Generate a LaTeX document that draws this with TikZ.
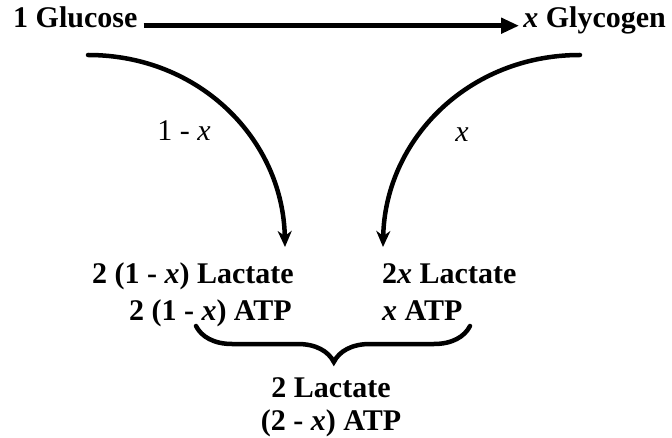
\documentclass[tikz,border=0pt]{standalone}
\usepackage{fontspec}
\setmainfont{Liberation Serif}
\usetikzlibrary{arrows.meta,decorations.pathreplacing}
\begin{document}
\begin{tikzpicture}[x=1pt, y=-1pt, >={Stealth[length=16pt,width=14pt,inset=5pt]},
  txt/.style={font=\bfseries\fontsize{30}{36}\selectfont, inner sep=0pt},
  lbl/.style={font=\fontsize{30}{36}\selectfont, inner sep=0pt},
  heavy/.style={line width=4.5pt, line cap=round}]
  \useasboundingbox (0,0) rectangle (672,438);
  % Текстове
  \node[txt, anchor=base west] (glu) at (13,28) {1 Glucose};
  \node[txt, anchor=base east] (gly) at (666,28) {\textit{x} Glycogen};
  \node[txt, anchor=base east] (lacA) at (294,284) {2 (1 - \textit{x}) Lactate};
  \node[txt, anchor=base east] (atpA) at (292,320) {2 (1 - \textit{x}) ATP};
  \node[txt, anchor=base west] (lacB) at (382,284) {2\textit{x} Lactate};
  \node[txt, anchor=base west] (atpB) at (382,320) {\textit{x} ATP};
  \node[txt, anchor=base] (lacS) at (331,397) {2 Lactate};
  \node[txt, anchor=base] (atpS) at (331,430) {(2 - \textit{x}) ATP};

  % Прав път
  \draw[line width=4.5pt, -{Triangle[length=18pt,width=15pt]}] ([xshift=6pt]glu.mid east) -- ([xshift=-4pt]gly.mid west);

  % Криви стрелки
  \coordinate (sA) at (88,55);
  \coordinate (eA) at (285,247);
  \coordinate (sB) at (580,55);
  \coordinate (eB) at (383,247);
  \draw[heavy, ->] (sA) .. controls (200,55) and (283,140) .. (eA);
  \draw[heavy, ->] (sB) .. controls (468,55) and (385,140) .. (eB);
  \node[lbl] (fA) at (184,131) {1 - \textit{x}};
  \node[lbl] (fB) at (462,135) {\textit{x}};

  % Скоба
  \coordinate (bR) at (470,326);
  \coordinate (bL) at (196,326);
  \draw[heavy, decorate, decoration={brace, amplitude=36pt, aspect=0.497}] (bR) -- (bL);
\end{tikzpicture}
\end{document}
